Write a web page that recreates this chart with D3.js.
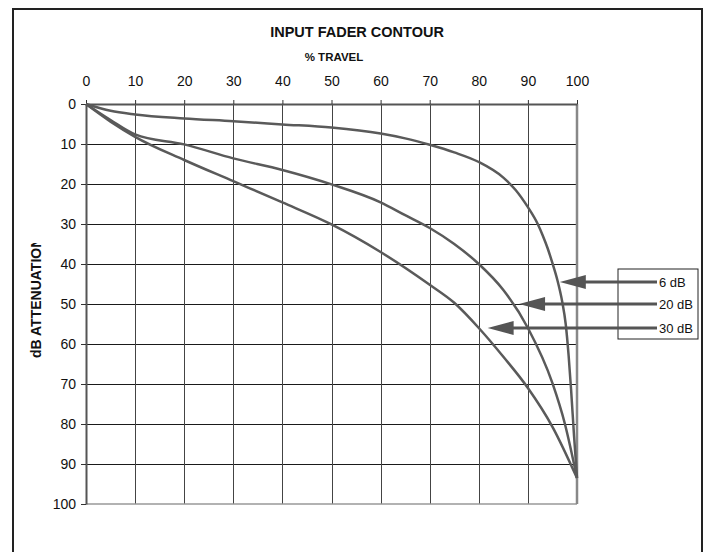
<!DOCTYPE html>
<html lang="en">
<head>
    <meta charset="UTF-8">
    <title>Input Fader Contour</title>
    <script src="https://d3js.org/d3.v7.min.js"></script>
    <style>
        body { margin: 0; background: #fff; }
        text { font-family: "Liberation Sans", Arial, Helvetica, sans-serif; fill: #111; }
    </style>
</head>
<body>
    <svg id="chart" width="707" height="552"></svg>

    <script>
        // % travel ticks and dB ticks
        const travelTicks = [0, 10, 20, 30, 40, 50, 60, 70, 80, 90, 100];
        const dbTicks = [0, 10, 20, 30, 40, 50, 60, 70, 80, 90, 100];

        // [% travel, dB attenuation]
        const curve6dB = [[0, 0], [5, 1.7], [10, 2.6], [20, 3.6], [30, 4.3], [40, 5.1], [50, 5.9], [60, 7.4],
            [65, 8.6], [70, 10.2], [75, 12.1], [80, 14.5], [85, 18.4], [87.5, 21.5], [90, 25.8], [92, 30],
            [93, 32.8], [94, 36], [95, 39.8], [96, 44], [97, 49.5], [97.7, 55], [98.3, 63], [98.8, 71.5],
            [99.4, 83], [100, 93.5]];
        const curve20dB = [[0, 0], [5, 4], [10, 7.6], [20, 10.1], [30, 13.6], [40, 16.5], [50, 20.1], [60, 24.6],
            [65, 27.8], [70, 31], [75, 35], [80, 40], [85, 46.5], [90, 56], [95, 69.8], [97.5, 79.8], [100, 93.5]];
        const curve30dB = [[0, 0], [5, 4.4], [10, 8.2], [20, 14], [30, 19.3], [40, 24.6], [50, 30.1], [60, 37],
            [70, 45.2], [75, 49.7], [80, 56], [85, 63.2], [90, 71], [95, 80.7], [100, 93.5]];

        const seriesNames = ["6 dB", "20 dB", "30 dB"];
        // where each label's arrow points, [% travel, dB]
        const arrowTips = [[96.5, 44.5], [88.2, 50], [81.8, 56]];

        const width = 707, height = 552;
        const margin = { top: 104, right: 131, bottom: 48, left: 86 };

        const svg = d3.select("#chart");

        // outer frame (runs off the bottom like the scan)
        svg.append("rect")
            .attr("x", 13).attr("y", 9)
            .attr("width", 689).attr("height", 560)
            .attr("fill", "none").attr("stroke", "#222").attr("stroke-width", 2);

        const x = d3.scaleLinear().domain([0, 100]).range([margin.left, width - margin.right + 1]);
        const y = d3.scaleLinear().domain([0, 100]).range([margin.top, height - margin.bottom]);

        // grid
        svg.append("g")
            .selectAll("line")
            .data(dbTicks.slice(1, -1))
            .join("line")
            .attr("x1", x(0)).attr("x2", x(100))
            .attr("y1", d => Math.round(y(d)) + 0.5).attr("y2", d => Math.round(y(d)) + 0.5)
            .attr("stroke", "#1a1a1a").attr("stroke-width", 1);

        svg.append("g")
            .selectAll("line")
            .data(travelTicks.slice(1, -1))
            .join("line")
            .attr("x1", d => Math.round(x(d)) + 0.5).attr("x2", d => Math.round(x(d)) + 0.5)
            .attr("y1", y(0)).attr("y2", y(100))
            .attr("stroke", "#444").attr("stroke-width", 1);

        // plot edges
        svg.append("line")
            .attr("x1", x(0)).attr("x2", x(100)).attr("y1", y(100)).attr("y2", y(100))
            .attr("stroke", "#999").attr("stroke-width", 1.5);
        svg.append("line")
            .attr("x1", x(100)).attr("x2", x(100)).attr("y1", y(0)).attr("y2", y(100))
            .attr("stroke", "#888").attr("stroke-width", 2.5);

        // axes
        const topAxis = svg.append("g")
            .attr("transform", `translate(0,${y(0)})`)
            .call(d3.axisTop(x).tickValues(travelTicks).tickSize(4).tickSizeOuter(0).tickPadding(14));
        topAxis.select(".domain").attr("stroke", "#555").attr("stroke-width", 2);
        topAxis.selectAll(".tick line").attr("stroke", "#333");
        topAxis.selectAll("text").style("font-size", "14px").attr("fill", "#111");

        const leftAxis = svg.append("g")
            .attr("transform", `translate(${x(0)},0)`)
            .call(d3.axisLeft(y).tickValues(dbTicks).tickSize(5).tickSizeOuter(0).tickPadding(5));
        leftAxis.select(".domain").attr("stroke", "#555").attr("stroke-width", 2);
        leftAxis.selectAll(".tick line").attr("stroke", "#333");
        leftAxis.selectAll("text").style("font-size", "14px").attr("fill", "#111");

        // titles
        svg.append("text")
            .attr("x", 357).attr("y", 37)
            .attr("text-anchor", "middle")
            .style("font-size", "14.5px").style("font-weight", "bold")
            .text("INPUT FADER CONTOUR");

        svg.append("text")
            .attr("x", 334).attr("y", 61)
            .attr("text-anchor", "middle")
            .style("font-size", "11.5px").style("font-weight", "bold")
            .text("% TRAVEL");

        // y title, clipped at the top like the original
        svg.append("clipPath").attr("id", "ylabclip")
            .append("rect").attr("x", 0).attr("y", 243).attr("width", 60).attr("height", 140);
        svg.append("g")
            .attr("clip-path", "url(#ylabclip)")
            .append("text")
            .attr("transform", "translate(41,358) rotate(-90)")
            .style("font-size", "14px").style("font-weight", "bold")
            .text("dB ATTENUATION");

        // curves
        const line = d3.line()
            .x(d => x(d[0]))
            .y(d => y(d[1]))
            .curve(d3.curveMonotoneX);

        [curve6dB, curve20dB, curve30dB].forEach(c => {
            svg.append("path")
                .datum(c)
                .attr("fill", "none")
                .attr("stroke", "#5a5a5a")
                .attr("stroke-width", 2.5)
                .attr("d", line);
        });

        // label box with arrows
        svg.append("rect")
            .attr("x", 618).attr("y", 269)
            .attr("width", 80).attr("height", 70)
            .attr("fill", "#fff").attr("stroke", "#222").attr("stroke-width", 1);

        const labelX = 659;
        seriesNames.forEach((name, i) => {
            const tx = x(arrowTips[i][0]), ty = y(arrowTips[i][1]);
            svg.append("line")
                .attr("x1", tx + 20).attr("x2", labelX - 2)
                .attr("y1", ty).attr("y2", ty)
                .attr("stroke", "#555").attr("stroke-width", 3);
            svg.append("path")
                .attr("d", `M${tx},${ty} L${tx + 26},${ty - 7} L${tx + 26},${ty + 7} Z`)
                .attr("fill", "#555");
            svg.append("text")
                .attr("x", labelX).attr("y", ty + 4.5)
                .style("font-size", "13px")
                .text(name);
        });
    </script>
</body>
</html>
